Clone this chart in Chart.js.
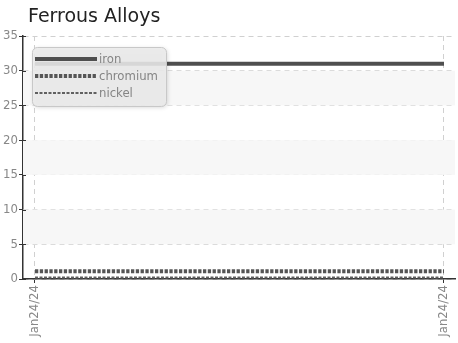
<!DOCTYPE html>
<html>
<head>
<meta charset="utf-8">
<script src="https://cdn.jsdelivr.net/npm/chart.js@4/dist/chart.umd.min.js"></script>
<style>
    html, body { margin: 0; padding: 0; background: #fff; }
    #wrap { width: 458px; height: 343px; position: relative; }
</style>
</head>
<body>
<div id="wrap"><canvas id="alloys"></canvas></div>
<script>
// data
const chartTitle = "Ferrous Alloys";
const xLabels = ["Jan24/24", "Jan24/24"];
const seriesNames = ["iron", "chromium", "nickel"];
const ironValues = [31, 31];
const chromiumValues = [1.1, 1.1];
const nickelValues = [0.2, 0.2];
const yTicks = [0, 5, 10, 15, 20, 25, 30, 35];

const narrowFamily = "'DejaVu Sans Condensed', sans-serif";
const tickFont = { family: narrowFamily, size: 13 };

function toPoints(values) {
    return values.map((v, i) => ({ x: i, y: v }));
}

// light bands behind every other tick gap
const bandPlugin = {
    id: "bands",
    beforeDatasetsDraw(chart) {
        const { ctx, chartArea, scales } = chart;
        const y = scales.y;
        ctx.save();
        ctx.fillStyle = "#f7f7f7";
        for (let i = 1; i < yTicks.length - 1; i += 2) {
            const top = y.getPixelForValue(yTicks[i + 1]);
            const bottom = y.getPixelForValue(yTicks[i]);
            ctx.fillRect(chartArea.left, top, chartArea.right - chartArea.left, bottom - top);
        }
        ctx.restore();
    },
};

// title + boxed legend drawn on top
const overlayPlugin = {
    id: "overlay",
    afterDraw(chart) {
        const ctx = chart.ctx;
        const y = chart.scales.y;
        ctx.save();

        // small tick marks poking right of the y axis
        ctx.strokeStyle = "#333";
        ctx.lineWidth = 1;
        yTicks.forEach((v) => {
            const py = Math.round(y.getPixelForValue(v)) + 0.5;
            ctx.beginPath();
            ctx.moveTo(chart.chartArea.left, py);
            ctx.lineTo(chart.chartArea.left + 3, py);
            ctx.stroke();
        });

        ctx.fillStyle = "#222";
        ctx.font = "19px 'DejaVu Sans', sans-serif";
        ctx.textBaseline = "alphabetic";
        ctx.fillText(chartTitle, 28, 22);

        // legend box
        const bx = 32.5, by = 47.5, bw = 134, bh = 59, r = 5;
        ctx.shadowColor = "rgba(0,0,0,0.18)";
        ctx.shadowBlur = 4;
        ctx.shadowOffsetX = 1;
        ctx.shadowOffsetY = 1;
        ctx.beginPath();
        ctx.roundRect(bx, by, bw, bh, r);
        ctx.fillStyle = "rgba(236,236,236,0.88)";
        ctx.fill();
        ctx.shadowColor = "transparent";
        ctx.strokeStyle = "#c8c8c8";
        ctx.lineWidth = 1;
        ctx.stroke();

        chart.data.datasets.forEach((ds, i) => {
            const ly = 59 + i * 17;
            ctx.beginPath();
            ctx.setLineDash(ds.borderDash || []);
            ctx.lineWidth = ds.borderWidth;
            ctx.strokeStyle = ds.borderColor;
            ctx.moveTo(35, ly);
            ctx.lineTo(97, ly);
            ctx.stroke();
            ctx.setLineDash([]);
            ctx.fillStyle = "#858585";
            ctx.font = "13px " + narrowFamily;
            ctx.textBaseline = "middle";
            ctx.fillText(ds.label, 99, ly + 1);
        });
        ctx.restore();
    },
};

const config = {
    type: "line",
    data: {
        datasets: [
            {
                label: seriesNames[0],
                data: toPoints(ironValues),
                borderColor: "#4f4f4f",
                borderWidth: 4,
                borderDash: [],
                pointRadius: 0,
                fill: false,
            },
            {
                label: seriesNames[1],
                data: toPoints(chromiumValues),
                borderColor: "#555555",
                borderWidth: 4,
                borderDash: [3.3, 1.5],
                pointRadius: 0,
                fill: false,
            },
            {
                label: seriesNames[2],
                data: toPoints(nickelValues),
                borderColor: "#606060",
                borderWidth: 2,
                borderDash: [3, 1.5],
                pointRadius: 0,
                fill: false,
            },
        ],
    },
    options: {
        responsive: true,
        maintainAspectRatio: false,
        animation: false,
        layout: { padding: { top: 36, right: 3, left: 0, bottom: 0 } },
        plugins: {
            legend: { display: false },
            title: { display: false },
            tooltip: { enabled: false },
        },
        scales: {
            x: {
                type: "linear",
                min: -0.0293,
                max: 1.0269,
                afterBuildTicks: (scale) => {
                    scale.ticks = xLabels.map((_, i) => ({ value: i }));
                },
                afterFit: (scale) => {
                    scale.height = 64;
                    scale.paddingLeft = 0;
                    scale.paddingRight = 0;
                },
                ticks: {
                    color: "#888",
                    font: tickFont,
                    minRotation: 90,
                    maxRotation: 90,
                    padding: 2,
                    callback: (val, idx) => xLabels[idx],
                },
                grid: {
                    color: "#d0d0d0",
                    tickColor: "#333",
                    tickLength: 4,
                },
                border: { display: true, color: "#333", width: 1.5, dash: [5, 4] },
            },
            y: {
                min: 0,
                max: 35,
                afterBuildTicks: (scale) => {
                    scale.ticks = yTicks.map((v) => ({ value: v }));
                },
                afterFit: (scale) => {
                    scale.width = 23;
                    scale.paddingTop = 0;
                    scale.paddingBottom = 0;
                },
                ticks: {
                    color: "#888",
                    font: tickFont,
                    padding: 1,
                },
                grid: {
                    color: "#d0d0d0",
                    tickColor: "#333",
                    tickLength: 4,
                },
                border: { display: true, color: "#333", width: 1.5, dash: [5, 4] },
            },
        },
    },
    plugins: [bandPlugin, overlayPlugin],
};

new Chart(document.getElementById("alloys"), config);
</script>
</body>
</html>
